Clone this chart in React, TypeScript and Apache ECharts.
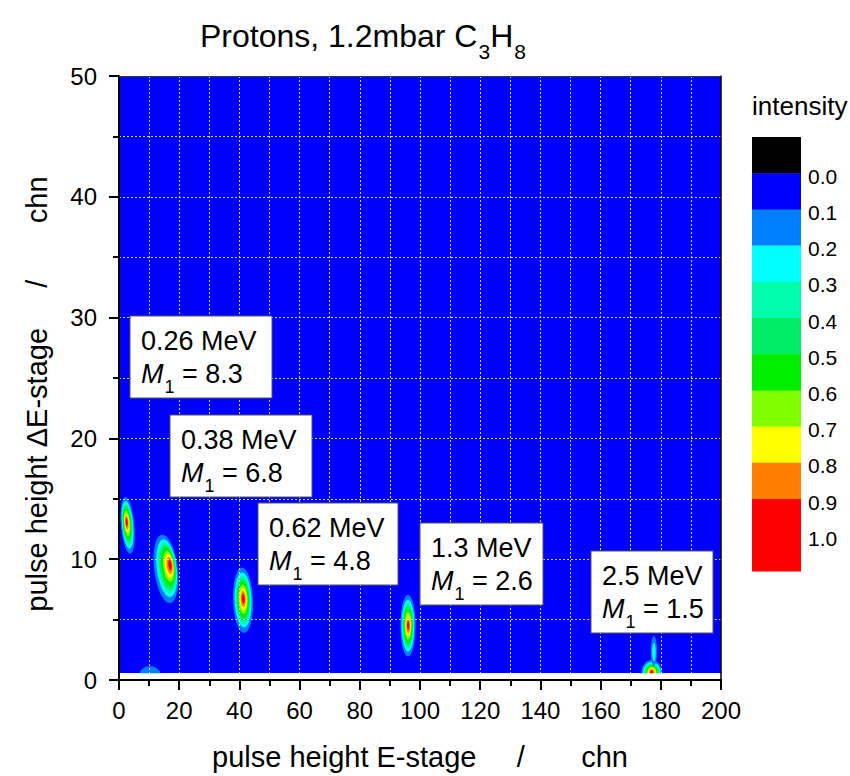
import { useEffect, useRef } from "react";
import * as echarts from "echarts";

// ---------- data ----------
const xAxisRange = [0, 200, 20]; // min, max, major interval (chn)
const yAxisRange = [0, 50, 10];
const mapExtentX = [0, 200]; // area covered by the measured map
const mapExtentY = [0.55, 50];

// intensity legend
const intensityLabels = ["0.0", "0.1", "0.2", "0.3", "0.4", "0.5", "0.6", "0.7", "0.8", "0.9", "1.0"];
const intensityColors = [
  "#000000", "#0000ff", "#0080ff", "#00ffff", "#00ffaa", "#00ee66",
  "#00ee00", "#80ff00", "#ffff00", "#ff8000", "#ff0000",
];

// relative size of contour levels 0.1 ... 0.9 (outer contour = 1)
const contourRadii = [1, 0.84, 0.75, 0.66, 0.56, 0.45, 0.35, 0.25, 0.15];

// blobs: outer (0.1) contour ellipse, position of maximum, tilt, number of levels reached
const blobCenterX = [2.9, 15.6, 41.2, 96.0, 177.0, 177.7, 10.3];
const blobCenterY = [12.8, 9.2, 6.6, 4.5, 0.55, 2.4, 0.3];
const blobRadiusX = [2.2, 3.9, 3.3, 2.5, 3.5, 1.0, 3.7];
const blobRadiusY = [2.35, 2.85, 2.7, 2.55, 1.1, 1.25, 0.85];
const blobPeakX = [2.5, 17.2, 41.3, 96.1, 177.0, 177.7, 10.3];
const blobPeakY = [13.1, 9.57, 6.75, 4.5, 0.65, 2.2, 0.3];
const blobTilt = [-5, -7, -2, 0, 0, 0, 0];
const blobLevels = [9, 9, 9, 9, 9, 2, 1];

// annotations
const peakEnergy = ["0.26 MeV", "0.38 MeV", "0.62 MeV", "1.3 MeV", "2.5 MeV"];
const peakM1 = ["8.3", "6.8", "4.8", "2.6", "1.5"];

// ---------- layout ----------
const FONT = "'Liberation Sans', Arial, Helvetica, sans-serif";
const boxLeft = [130, 170, 258, 420, 591];
const boxTop = [316, 415, 503, 523, 551];
const boxWidth = [142, 142, 140, 123, 122];
const boxHeight = 82;
const legendX = 752;
const legendTop = 137;
const legendStep = 36.2;
const legendW = 49;

const NB = "\u00a0";

export default function App() {
  const ref = useRef<HTMLDivElement>(null);

  useEffect(() => {
    if (!ref.current) return;
    const chart = echarts.init(ref.current, undefined, { renderer: "svg" });

    const contourColors = intensityColors.slice(2);
    const backgroundColor = intensityColors[1];

    const blobData = blobCenterX.map((_, i) => [
      blobCenterX[i], blobCenterY[i], blobRadiusX[i], blobRadiusY[i],
      blobPeakX[i], blobPeakY[i], blobTilt[i], blobLevels[i],
    ]);

    const renderRect = (fill: string) => (params: any, api: any) => {
      const p0 = api.coord([api.value(0), api.value(3)]);
      const p1 = api.coord([api.value(2), api.value(1)]);
      return {
        type: "rect",
        shape: { x: p0[0], y: p0[1], width: p1[0] - p0[0], height: p1[1] - p0[1] },
        style: { fill },
      };
    };

    const renderBlob = (params: any, api: any) => {
      const cx = api.value(0), cy = api.value(1);
      const rx = api.value(2), ry = api.value(3);
      const px = api.value(4), py = api.value(5);
      const tilt = (api.value(6) * Math.PI) / 180;
      const levels = api.value(7);
      const c = api.coord([cx, cy]);
      const p = api.coord([px, py]);
      const s = api.size([rx, ry], [cx, cy]);
      const start = 9 - levels;
      const children: any[] = [];
      for (let k = 0; k < levels; k++) {
        const rel = contourRadii[start + k] / contourRadii[start];
        const ccx = p[0] + (c[0] - p[0]) * rel;
        const ccy = p[1] + (c[1] - p[1]) * rel;
        const pts: number[][] = [];
        const N = 72;
        for (let t = 0; t < N; t++) {
          const a = (t / N) * Math.PI * 2;
          const ex = s[0] * rel * Math.cos(a);
          const ey = s[1] * rel * Math.sin(a);
          pts.push([
            ccx + ex * Math.cos(tilt) - ey * Math.sin(tilt),
            ccy + ex * Math.sin(tilt) + ey * Math.cos(tilt),
          ]);
        }
        children.push({ type: "polygon", shape: { points: pts }, style: { fill: contourColors[k] } });
      }
      return { type: "group", children };
    };

    const gridLine = { lineStyle: { color: "rgba(255,255,255,0.85)", width: 1, type: [2, 2] } };

    const graphics: any[] = [];
    // title
    graphics.push({
      type: "text",
      x: 200,
      y: 20,
      z: 30,
      style: {
        text: "{m|Protons, 1.2mbar C}{s|3}{m|H}{s|8}",
        fill: "#000",
        fontFamily: FONT,
        verticalAlign: "top",
        align: "left",
        rich: {
          m: { fontSize: 32, fontFamily: FONT, verticalAlign: "top" },
          s: { fontSize: 21, fontFamily: FONT, verticalAlign: "top", padding: [21, 0, 0, 1] },
        },
      },
    });
    // legend
    graphics.push({
      type: "text",
      x: legendX,
      y: 106,
      z: 30,
      style: { text: "intensity", fontSize: 26, fontFamily: FONT, fill: "#000", verticalAlign: "middle", align: "left" },
    });
    intensityColors.forEach((col, i) => {
      const last = i === intensityColors.length - 1;
      graphics.push({
        type: "rect",
        z: 30,
        shape: { x: legendX, y: legendTop + i * legendStep, width: legendW, height: legendStep * (last ? 2 : 1) + (last ? 0 : 0.5) },
        style: { fill: col },
      });
    });
    intensityLabels.forEach((lab, i) => {
      graphics.push({
        type: "text",
        x: legendX + legendW + 7,
        y: legendTop + (i + 1) * legendStep + 3,
        z: 30,
        style: { text: lab, fontSize: 21, fontFamily: FONT, fill: "#000", verticalAlign: "middle", align: "left" },
      });
    });
    // annotation boxes
    peakEnergy.forEach((en, i) => {
      graphics.push({
        type: "rect",
        z: 40,
        shape: { x: boxLeft[i], y: boxTop[i], width: boxWidth[i], height: boxHeight },
        style: { fill: "#ffffff", stroke: "#555", lineWidth: 1 },
      });
      graphics.push({
        type: "text",
        z: 41,
        x: boxLeft[i] + 11,
        y: boxTop[i] + 25,
        style: { text: en, fontSize: 27, fontFamily: FONT, fill: "#000", verticalAlign: "middle", align: "left" },
      });
      graphics.push({
        type: "text",
        z: 41,
        x: boxLeft[i] + 11,
        y: boxTop[i] + 44,
        style: {
          text: `{m|M}{s|1}{t| = ${peakM1[i]}}`,
          fill: "#000",
          fontFamily: FONT,
          verticalAlign: "top",
          align: "left",
          rich: {
            m: { fontSize: 27, fontStyle: "italic", fontFamily: FONT, verticalAlign: "top" },
            s: { fontSize: 18, fontFamily: FONT, verticalAlign: "top", padding: [18, 0, 0, 1] },
            t: { fontSize: 27, fontFamily: FONT, verticalAlign: "top" },
          },
        },
      });
    });

    const option: any = {
      animation: false,
      backgroundColor: "#ffffff",
      grid: { left: 119, top: 76, width: 602, height: 604, containLabel: false, outerBoundsMode: "none" },
      xAxis: [
        {
          type: "value",
          min: xAxisRange[0],
          max: xAxisRange[1],
          interval: xAxisRange[2],
          position: "bottom",
          z: 10,
          axisLine: { show: true, onZero: false, lineStyle: { color: "#000", width: 2 } },
          axisTick: { show: true, length: 10, lineStyle: { color: "#000", width: 2 } },
          minorTick: { show: true, splitNumber: 2, length: 6, lineStyle: { color: "#000", width: 2 } },
          splitLine: { show: true, ...gridLine },
          minorSplitLine: { show: true, ...gridLine },
          axisLabel: { fontSize: 24, color: "#000", fontFamily: FONT, margin: 18 },
          name: `pulse height E-stage${NB.repeat(5)}/${NB.repeat(7)}chn`,
          nameLocation: "middle",
          nameGap: 62,
          nameTextStyle: { fontSize: 29, color: "#000", fontFamily: FONT },
        },
        {
          type: "value",
          min: xAxisRange[0],
          max: xAxisRange[1],
          position: "top",
          z: 10,
          axisLine: { show: true, onZero: false, lineStyle: { color: "#333", width: 1 } },
          axisTick: { show: false },
          axisLabel: { show: false },
          splitLine: { show: false },
        },
      ],
      yAxis: [
        {
          type: "value",
          min: yAxisRange[0],
          max: yAxisRange[1],
          interval: yAxisRange[2],
          position: "left",
          z: 10,
          axisLine: { show: true, onZero: false, lineStyle: { color: "#000", width: 2 } },
          axisTick: { show: true, length: 10, lineStyle: { color: "#000", width: 2 } },
          minorTick: { show: true, splitNumber: 2, length: 6, lineStyle: { color: "#000", width: 2 } },
          splitLine: { show: true, ...gridLine },
          minorSplitLine: { show: true, ...gridLine },
          axisLabel: { fontSize: 24, color: "#000", fontFamily: FONT, margin: 22 },
          name: `pulse height \u0394E-stage${NB.repeat(5)}/${NB.repeat(7)}chn${NB.repeat(4)}`,
          nameLocation: "middle",
          nameGap: 68,
          nameRotate: 90,
          nameTextStyle: { fontSize: 29, color: "#000", fontFamily: FONT },
        },
        {
          type: "value",
          min: yAxisRange[0],
          max: yAxisRange[1],
          position: "right",
          z: 10,
          axisLine: { show: true, onZero: false, lineStyle: { color: "#000", width: 1.5 } },
          axisTick: { show: false },
          axisLabel: { show: false },
          splitLine: { show: false },
        },
      ],
      series: [
        {
          type: "custom",
          name: "map",
          z: 1,
          clip: true,
          silent: true,
          renderItem: renderRect(backgroundColor),
          data: [[mapExtentX[0], mapExtentY[0], mapExtentX[1], mapExtentY[1]]],
        },
        {
          type: "custom",
          name: "blobs",
          z: 2,
          clip: true,
          silent: true,
          renderItem: renderBlob,
          data: blobData,
        },
        {
          type: "custom",
          name: "outside",
          z: 3,
          clip: true,
          silent: true,
          renderItem: renderRect("#ffffff"),
          data: [[mapExtentX[0], yAxisRange[0], mapExtentX[1], mapExtentY[0]]],
        },
      ],
      graphic: graphics,
    };

    chart.setOption(option);
    return () => chart.dispose();
  }, []);

  return (
    <div
      ref={ref}
      style={{ position: "fixed", left: 0, top: 0, width: 850, height: 776, background: "#fff" }}
    />
  );
}
